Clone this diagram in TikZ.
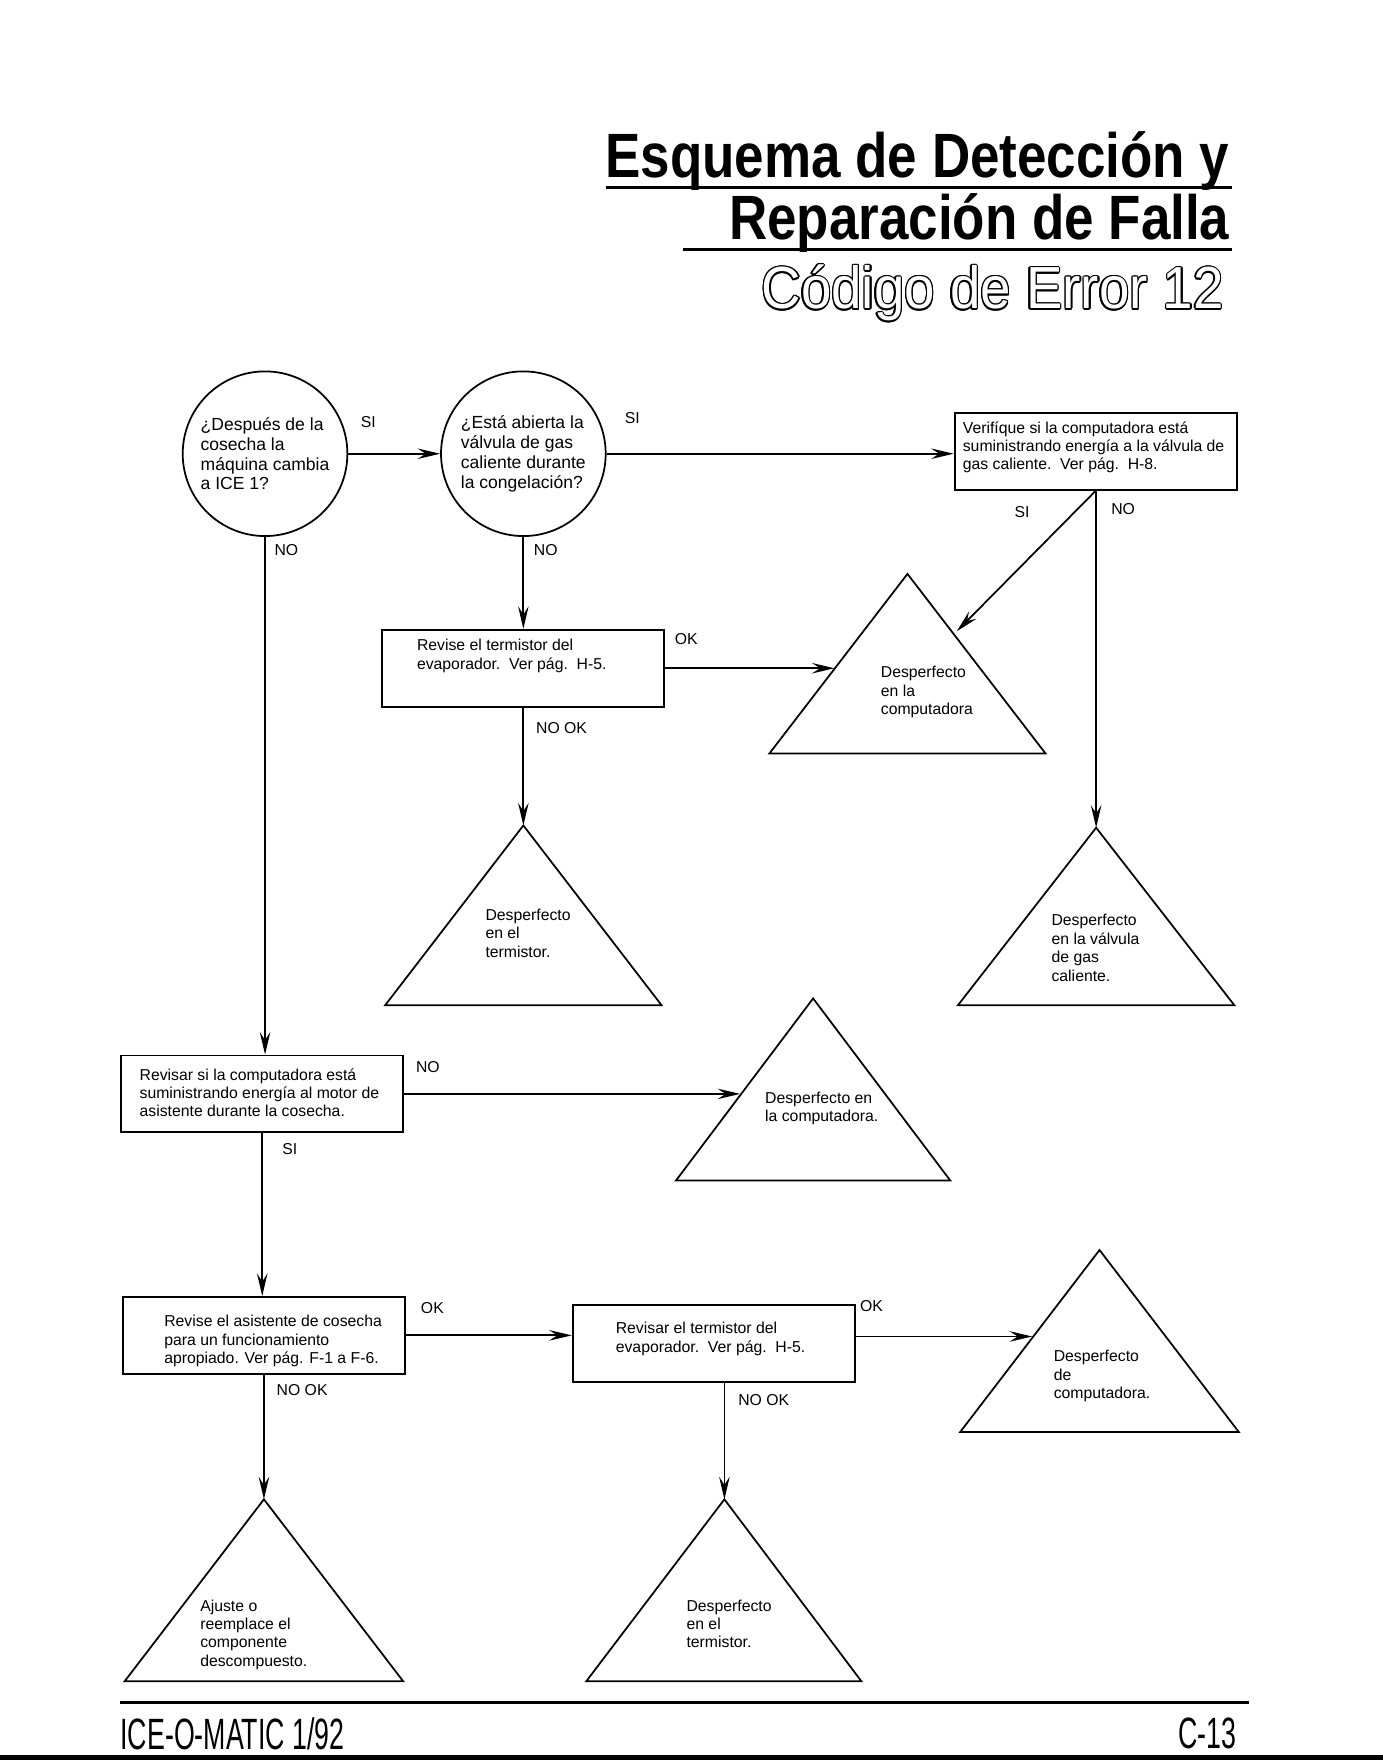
\documentclass[tikz,border=0pt]{standalone}
\usepackage{fontspec}
\setmainfont{Liberation Sans}
\usetikzlibrary{positioning}
\usetikzlibrary{arrows.meta}
\usetikzlibrary{calc}

\begin{document}
\begin{tikzpicture}[
        x=0.0225cm, y=-0.0225cm,
        question/.style={draw, circle, line width=1pt, minimum size=3.3cm, inner sep=0pt, align=left, font=\fontsize{10}{11.3}\selectfont},
        check box/.style={draw, rectangle, line width=1.1pt, minimum width=5.65cm, minimum height=1.54cm},
        box text/.style={anchor=north west, inner sep=0pt, align=left, font=\fontsize{9}{10.5}\selectfont},
        fault/.style={draw, line width=1pt},
        answer/.style={inner sep=1pt, font=\fontsize{9}{10}\selectfont},
        flow/.style={-{Stealth[length=4.5mm, width=2.1mm, inset=1.6mm]}, line width=1pt},
        heading/.style={anchor=base east, inner sep=0pt, font=\fontsize{35.7}{40}\selectfont\bfseries},
        code title/.style={anchor=base east, inner sep=0pt, font=\fontsize{33.9}{38}\selectfont},
        footer/.style={inner sep=0pt, font=\fontsize{25}{27}\selectfont},
    ]
    \useasboundingbox (0,0) rectangle (1231,1568);

    % Title
    \node[heading] (title1) at (1095,158) {\scalebox{0.846}[1]{Esquema de Detección y}};
    \draw[line width=1.6pt] (540,167) -- (1097,167);
    \node[heading] (title2) at (1095,213) {\scalebox{0.846}[1]{Reparación de Falla}};
    \draw[line width=1.6pt] (608,222) -- (1097,222);

    % Outlined subtitle
    \foreach \ang in {0,30,...,330}
        \node[code title] (outline\ang) at ($(1090,275)+(\ang:0.8pt)$) {\scalebox{0.92}[1]{Código de Error 12}};
    \node[code title, text=white] (subtitle) at (1090,275) {\scalebox{0.92}[1]{Código de Error 12}};

    % Questions
    \node[question] (c1) at (236,404) {¿Después de la\\cosecha la\\máquina cambia\\a ICE 1?};
    \node[question] (c2) at (466,404) {¿Está abierta la\\válvula de gas\\caliente durante\\la congelación?};

    % Check boxes
    \node[check box] (b3) at (975.5,402) {};
    \node[box text] (b3 text) at (857,375) {Verifíque si la computadora está\\suministrando energía a la válvula de\\gas caliente.\ \ Ver pág.\ \ H-8.};
    \node[check box] (b2) at (466,595) {};
    \node[box text] (b2 text) at (371,569) {Revise el termistor del\\evaporador.\ \ Ver pág.\ \ H-5.};
    \node[check box] (b4) at (233.5,974) {};
    \node[box text] (b4 text) at (124,951) {Revisar si la computadora está\\suministrando energía al motor de\\asistente durante la cosecha.};
    \node[check box] (b5) at (235,1189) {};
    \node[box text] (b5 text) at (146,1171) {Revise el asistente de cosecha\\para un funcionamiento\\apropiado. Ver pág. F-1 a F-6.};
    \node[check box] (b6) at (635.5,1196.5) {};
    \node[box text] (b6 text) at (548,1177) {Revisar el termistor del\\evaporador.\ \ Ver pág.\ \ H-5.};

    % Faults (apex first)
    \draw[fault] (808,511) coordinate (t1) -- ++(-123,160) -- ++(246,0) -- cycle;
    \draw[fault] (466,735) coordinate (t2) -- ++(-123,160) -- ++(246,0) -- cycle;
    \draw[fault] (976,737) coordinate (t3) -- ++(-123,158) -- ++(246,0) -- cycle;
    \draw[fault] (724,889) coordinate (t4) -- ++(-122,162) -- ++(244,0) -- cycle;
    \draw[fault] (979,1113) coordinate (t5) -- ++(-124,162) -- ++(248,0) -- cycle;
    \draw[fault] (235,1335) coordinate (t6) -- ++(-124,162) -- ++(248,0) -- cycle;
    \draw[fault] (645,1335) coordinate (t7) -- ++(-123,162) -- ++(245,0) -- cycle;

    \node[box text] (t1 text) at (784,593) {Desperfecto\\en la\\computadora};
    \node[box text] (t2 text) at (432,809) {Desperfecto\\en el\\termistor.};
    \node[box text] (t3 text) at (936,814) {Desperfecto\\en la válvula\\de gas\\caliente.};
    \node[box text] (t4 text) at (681,972) {Desperfecto en\\la computadora.};
    \node[box text] (t5 text) at (938,1202) {Desperfecto\\de\\computadora.};
    \node[box text] (t6 text) at (178,1424) {Ajuste o\\reemplace el\\componente\\descompuesto.};
    \node[box text] (t7 text) at (611,1424) {Desperfecto\\en el\\termistor.};

    % Arrow ends on the triangle sides
    \coordinate (t1w) at (743,595);
    \coordinate (t1ne) at (852,562);
    \coordinate (t4w) at (659,974);
    \coordinate (t5w) at (919,1190);

    % Connectors
    \draw[flow] (c1.east) -- (c2.west);
    \draw[flow] (c2.east) -- (c2.east -| b3.west);
    \draw[flow] (b3.south) -- (t1ne);
    \draw[flow] (t3 |- b3.south) -- (t3);
    \draw[flow] (c1.south) -- (c1.south |- b4.north);
    \draw[flow] (c2.south) -- (b2.north);
    \draw[flow] (b2.east) -- (t1w);
    \draw[flow] (b2.south) -- (t2);
    \draw[flow] (b4.east) -- (t4w);
    \draw[flow] (b4.south) -- (b4.south |- b5.north);
    \draw[flow] (b5.east) -- (b5.east -| b6.west);
    \draw[flow] (b6.east |- t5w) -- (t5w);
    \draw[flow] (b5.south) -- (t6);
    \draw[flow] (t7 |- b6.south) -- (t7);

    % Answers
    \node[answer] (si1) at (328,376) {SI};
    \node[answer] (si2) at (563,372) {SI};
    \node[answer] (si3) at (910,456) {SI};
    \node[answer] (no3) at (1000,453) {NO};
    \node[answer] (no1) at (255,490) {NO};
    \node[answer] (no2) at (486,490) {NO};
    \node[answer] (ok2) at (611,569) {OK};
    \node[answer] (nook2) at (500,648) {NO OK};
    \node[answer] (no4) at (381,950) {NO};
    \node[answer] (si4) at (258,1023) {SI};
    \node[answer] (ok5) at (385,1165) {OK};
    \node[answer] (ok6) at (776,1163) {OK};
    \node[answer] (nook5) at (269,1238) {NO OK};
    \node[answer] (nook6) at (680,1247) {NO OK};

    % Footer
    \draw[line width=1.3pt] (107,1516) -- (1112,1516);
    \node[footer, anchor=north west] (brand) at (107,1529) {\scalebox{0.61}[1]{ICE-O-MATIC 1/92}};
    \node[footer, anchor=north east] (page) at (1101,1529) {\scalebox{0.61}[1]{C-13}};
    \draw[line width=2.5pt] (0,1565) -- (1231,1565);

\end{tikzpicture}
\end{document}
